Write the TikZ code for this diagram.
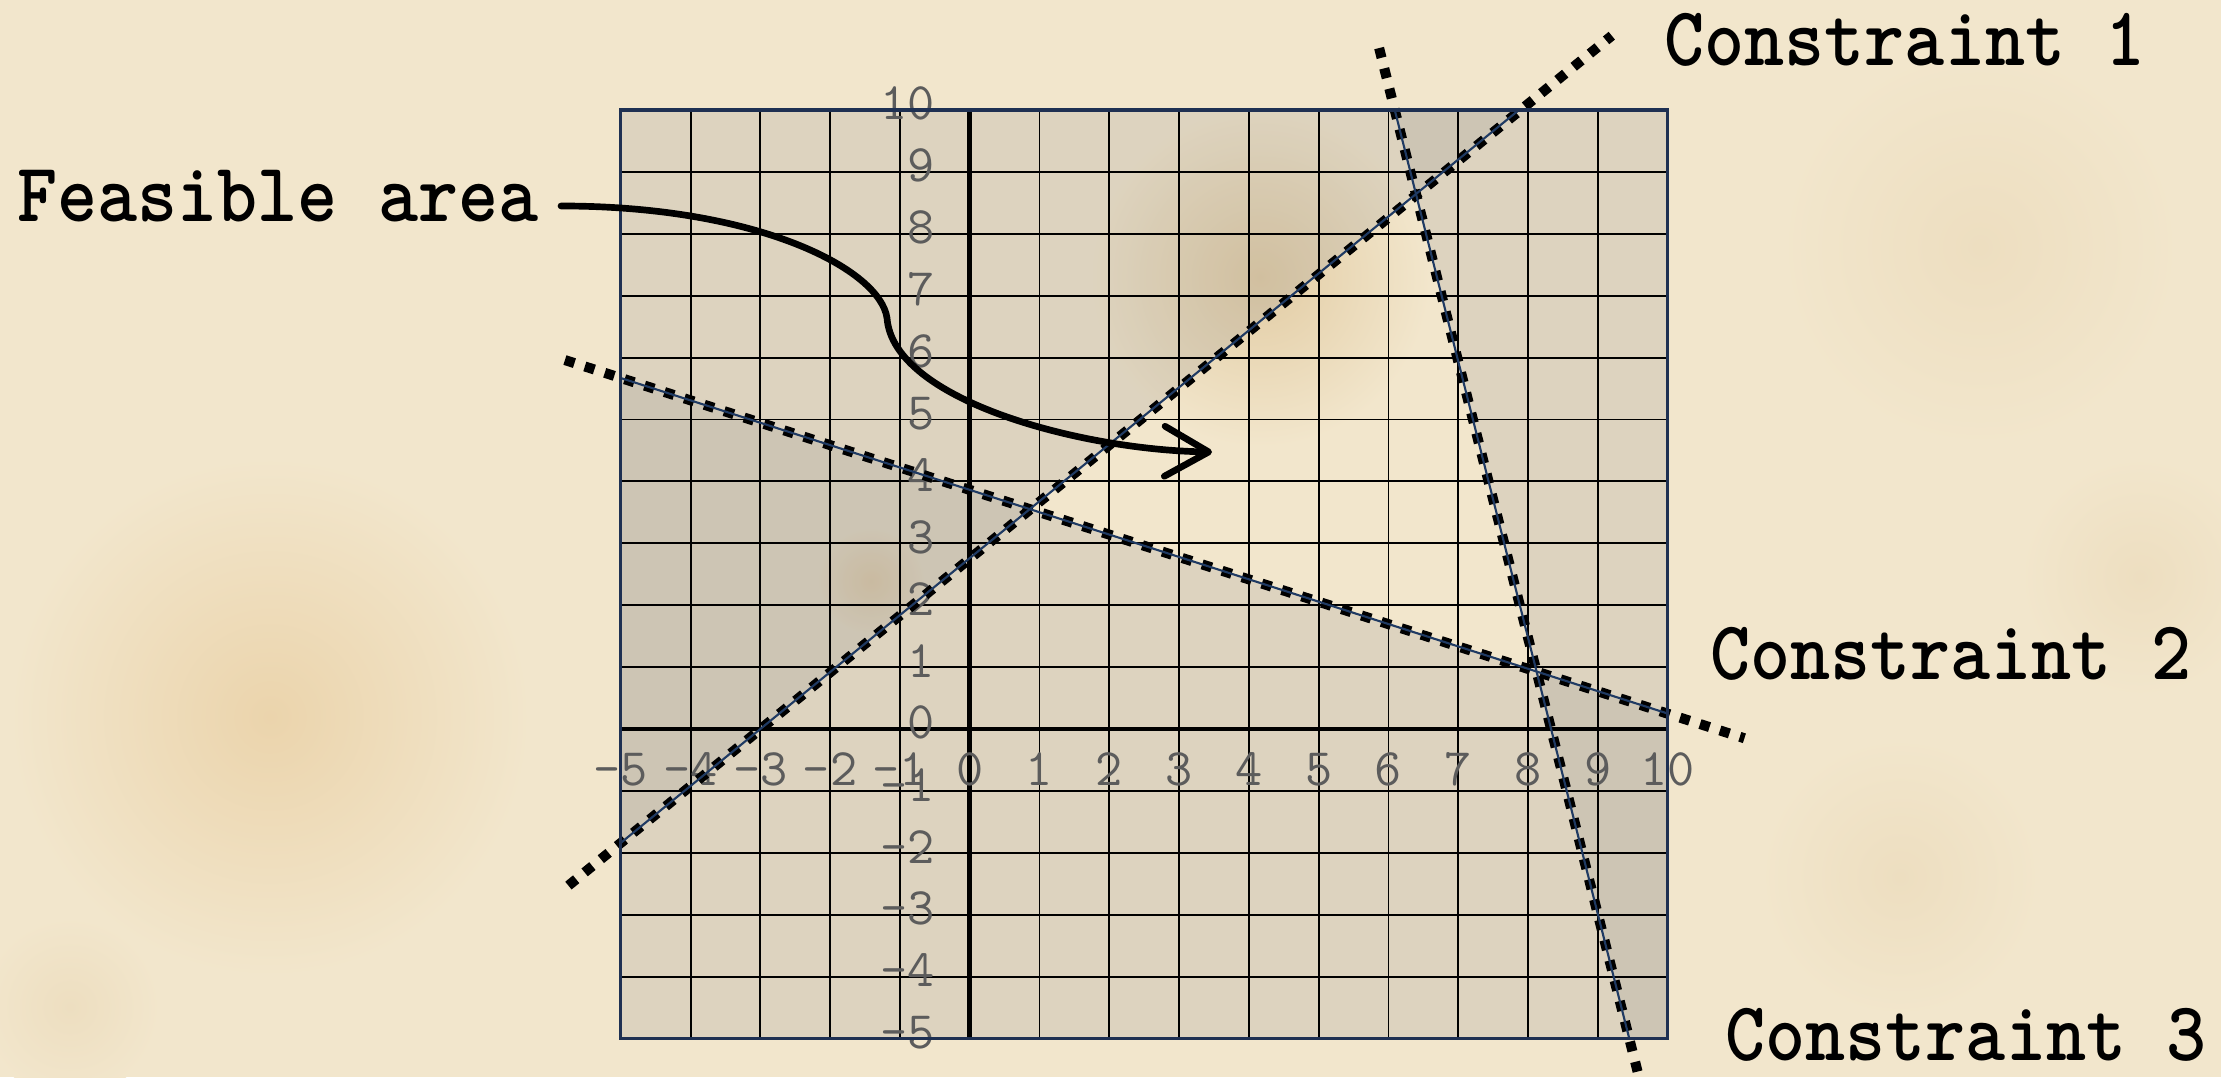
\documentclass[tikz,border=0pt]{standalone}
\usepackage{fontspec}
\usepackage{graphicx}
\usetikzlibrary{arrows.meta}
\definecolor{paper}{RGB}{242,230,204}
\definecolor{blot}{RGB}{235,212,172}
\definecolor{blotlight}{RGB}{237,222,192}
\definecolor{blotdark}{RGB}{226,204,164}
\definecolor{shadegray}{RGB}{150,148,145}
\definecolor{navy}{RGB}{30,48,82}
\definecolor{cline}{RGB}{31,58,99}
\definecolor{numgray}{RGB}{92,92,92}
\tikzset{
  gridline/.style={black, line width=0.55pt},
  axisline/.style={black, line width=1.3pt},
  gridframe/.style={navy, line width=0.9pt},
  shadezone/.style={fill=shadegray, fill opacity=0.22},
  dotline/.style={black, line width=2.85pt, dash pattern=on 2.85pt off 3.1pt},
  conline/.style={cline, line width=0.6pt},
  numlbl/.style={text=numgray, font=\fontsize{15}{15}\selectfont\ttfamily, inner sep=0pt},
  biglbl/.style={font=\fontsize{21.7}{22}\selectfont\ttfamily\bfseries, inner sep=0pt, text=black, anchor=base west},
  feasarrow/.style={black, line width=1.9pt, line cap=round, -{Straight Barb[length=4.4mm,width=5.0mm,round]}},
}
\begin{document}
\begin{tikzpicture}
\useasboundingbox (0,0) rectangle (22.21,10.77);
\fill[paper] (0,0) rectangle (22.21,10.77);
% parchment stains
\shade[inner color=blot, outer color=paper] (2.7,3.6) circle (2.6);
\shade[inner color=blotlight, outer color=paper] (0.7,0.7) circle (0.9);
\shade[inner color=blotdark, outer color=paper] (12.6,8.0) circle (1.7);
\shade[inner color=blotlight, outer color=paper] (19.8,8.3) circle (2.0);
\shade[inner color=blotlight, outer color=paper] (21.4,5.0) circle (1.2);
\shade[inner color=blotlight, outer color=paper] (19.0,2.0) circle (1.4);
\shade[inner color=blot, outer color=paper] (8.71,4.96) circle (0.55);

\begin{scope}[shift={(9.697,3.48)}, x=0.6979cm, y=0.619cm]
  % infeasible half-planes
  \fill[shadezone] (-5,-1.84) -- (7.87,10) -- (-5,10) -- cycle;
  \fill[shadezone] (-5,5.67) -- (10,0.25) -- (10,-5) -- (-5,-5) -- cycle;
  \fill[shadezone] (6.09,10) -- (9.45,-5) -- (10,-5) -- (10,10) -- cycle;
  % grid
  \foreach \i in {-4,...,9} {
    \draw[gridline] (\i,-5) -- (\i,10);
    \draw[gridline] (-5,\i) -- (10,\i);
  }
  \draw[axisline] (-5,0) -- (10,0);
  \draw[axisline] (0,-5) -- (0,10);
  % axis numbers
  \foreach \val in {-5,...,10} {
    \node[numlbl] (xl\val) at (\val,-0.65) {\val};
    \node[numlbl, anchor=east] (yl\val) at (-0.49,\val+0.1) {\val};
  }
  % constraint lines
  \coordinate (c1a) at (-5.75,-2.53);
  \coordinate (c1b) at (9.2,11.2);
  \coordinate (c2a) at (-5.8,5.96);
  \coordinate (c2b) at (11.1,-0.15);
  \coordinate (c3a) at (5.866,11.0);
  \coordinate (c3b) at (9.584,-5.6);
  \draw[dotline] (c1a) -- (c1b);
  \draw[dotline] (c2a) -- (c2b);
  \draw[dotline] (c3a) -- (c3b);
  \draw[conline] (-5,-1.84) -- (7.87,10);
  \draw[conline] (-5,5.67) -- (10,0.25);
  \draw[conline] (6.09,10) -- (9.45,-5);
  % frame
  \draw[gridframe] (-5,-5) rectangle (10,10);
\end{scope}

% labels
\node[biglbl] (fa) at (0.17,8.55) {\scalebox{1}[1.1]{Feasible area}};
\node[biglbl] (k1) at (16.64,10.11) {\scalebox{1}[1.1]{Constraint 1}};
\node[biglbl] (k2) at (17.10,3.97) {\scalebox{1}[1.1]{Constraint 2}};
\node[biglbl] (k3) at (17.25,0.17) {\scalebox{1}[1.1]{Constraint 3}};

% arrow
\coordinate (fastart) at (5.61,8.71);
\coordinate (fabend) at (8.87,7.59);
\coordinate (fatip) at (12.12,6.25);
\draw[feasarrow] (fastart) .. controls (7.60,8.71) and (8.80,8.07) .. (fabend)
  .. controls (8.93,6.77) and (10.80,6.27) .. (fatip);
\end{tikzpicture}
\end{document}
